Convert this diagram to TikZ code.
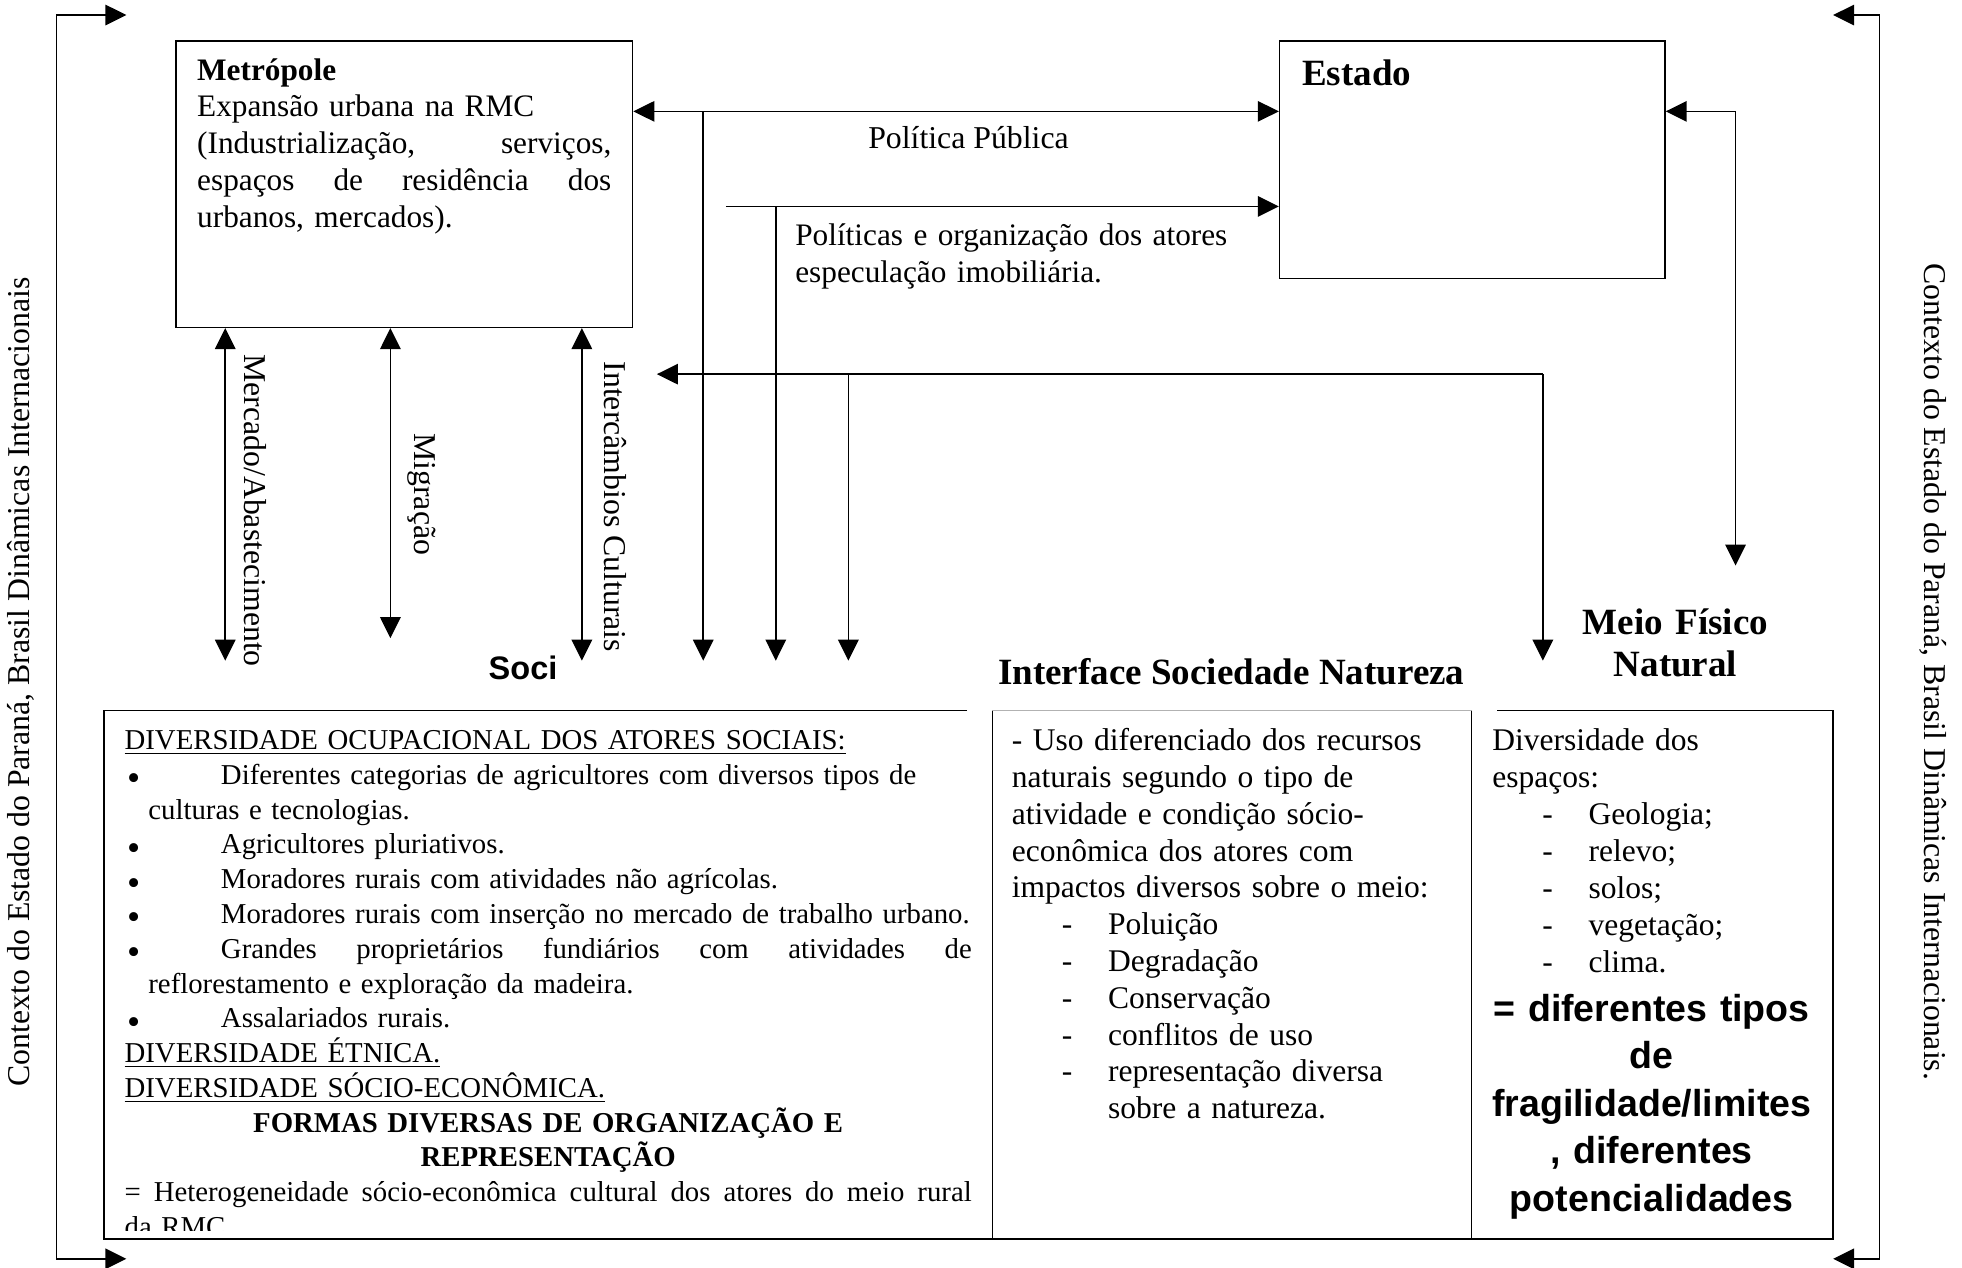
\documentclass[tikz,border=0pt]{standalone}
\usepackage{fontspec}
\setmainfont{Liberation Serif}
\setsansfont{Liberation Sans}
\usetikzlibrary{arrows.meta}

\newcommand{\linha}[1]{\leavevmode\hbox to\linewidth{#1}}
\newcommand{\marca}{\makebox[38.5pt][l]{\hspace{1pt}\smash{\raisebox{-2.6pt}{\fontsize{15}{15}\selectfont\textbullet}}}}
\newcommand{\traco}{\hspace*{20pt}\makebox[18.5pt][l]{-}}

\begin{document}
\begin{tikzpicture}[x=0.5pt,y=-0.5pt,line width=0.6pt,
		seta/.style={-{Triangle[length=8.4pt,width=8.2pt]}},
		dupla/.style={{Triangle[length=8.4pt,width=8.2pt]}-{Triangle[length=8.4pt,width=8.2pt]}},
		caixa/.style={draw,rectangle,inner sep=0pt,anchor=north west},
		texto/.style={inner sep=0pt,anchor=base west,font=\fontsize{12.5}{14.7}\selectfont},
		titulo/.style={inner sep=0pt,anchor=base,font=\fontsize{14.8}{17}\selectfont\bfseries},
		rotulo/.style={inner sep=0pt,font=\fontsize{12.7}{14.7}\selectfont}]
	\useasboundingbox (0,0) rectangle (1568,1013);

	% caixas de cima
	\node[caixa,minimum width=182.5pt,minimum height=114.5pt] (metro) at (140,32) {};
	\node[caixa,minimum width=154pt,minimum height=95pt] (estado) at (1022,32) {};
	\node[texto,text width=165.5pt] (metrotxt) at (157,64) {\textbf{Metrópole}\\
		Expansão urbana na RMC\\
		\linha{(Industrialização,\hfill serviços,}\\
		\linha{espaços\hfill de\hfill residência\hfill dos}\\
		urbanos, mercados).};
	\node[titulo,anchor=base west] (estadotxt) at (1040,68) {Estado};

	% pontos das setas
	\coordinate (ma) at (180,528);
	\coordinate (mg) at (312,510);
	\coordinate (ic) at (465,528);
	\coordinate (pp1) at (562,89);
	\coordinate (s1) at (562,528);
	\coordinate (po0) at (580,165);
	\coordinate (po1) at (620,165);
	\coordinate (s2) at (620,528);
	\coordinate (ic0) at (525,299);
	\coordinate (ic1) at (678,299);
	\coordinate (s3) at (678,528);
	\coordinate (ic2) at (1233,299);
	\coordinate (s4) at (1233,528);
	\coordinate (es0) at (1387,89);
	\coordinate (es1) at (1387,452);
	\coordinate (ce1) at (101,12);
	\coordinate (ce2) at (45,12);
	\coordinate (ce3) at (45,1006);
	\coordinate (ce4) at (101,1006);
	\coordinate (cd1) at (1465,12);
	\coordinate (cd2) at (1502,12);
	\coordinate (cd3) at (1502,1006);
	\coordinate (cd4) at (1465,1006);

	% setas
	\draw[dupla] (metro.east |- pp1) -- (estado.west |- pp1);
	\draw[seta] (pp1) -- (s1);
	\draw[seta] (po0) -- (estado.west |- po0);
	\draw[seta] (po1) -- (s2);
	\draw[seta] (ic2) -- (ic0);
	\draw[seta] (ic2) -- (s4);
	\draw[seta] (ic1) -- (s3);
	\draw[dupla] (estado.east |- es0) -- (es0) -- (es1);
	\draw[dupla] (metro.south -| ma) -- (ma);
	\draw[dupla] (metro.south -| mg) -- (mg);
	\draw[dupla] (metro.south -| ic) -- (ic);
	\draw[dupla] (ce1) -- (ce2) -- (ce3) -- (ce4);
	\draw[dupla] (cd1) -- (cd2) -- (cd3) -- (cd4);

	% rotulos
	\node[rotulo,anchor=base] (pp) at (774,119) {Política Pública};
	\node[texto,text width=200pt] (potxt) at (635,196) {Políticas e organização dos atores\\
		especulação imobiliária.};
	\node[rotulo,rotate=-90] (matxt) at (204,408) {Mercado/Abastecimento};
	\node[rotulo,rotate=-90] (mgtxt) at (337,395) {Migração};
	\node[rotulo,rotate=-90] (ictxt) at (492,405) {Intercâmbios Culturais};
	\node[rotulo,rotate=90] (ctxesq) at (17,545) {Contexto do Estado do Paraná, Brasil Dinâmicas Internacionais};
	\node[rotulo,rotate=-90] (ctxdir) at (1545,537) {Contexto do Estado do Paraná, Brasil Dinâmicas Internacionais.};
	\node[inner sep=0pt,font=\fontsize{13}{15}\selectfont\sffamily\bfseries] (soci) at (418,534) {Soci};
	\node[titulo] (interface) at (984,547) {Interface Sociedade Natureza};
	\node[titulo,text width=100pt,align=center] (meio) at (1339,507) {Meio Físico\\Natural};

	% tabela
	\draw (773,568) -- (83,568) -- (83,990) -- (1465,990) -- (1465,568) -- (1196,568);
	\draw[gray!60,line width=0.4pt] (793,568) -- (1176,568);
	\draw (793,568) -- (793,990);
	\draw (1176,568) -- (1176,990);

	\begin{scope}
		\clip (83,568) rectangle (793,983);
		\node[texto,text width=338.5pt,font=\fontsize{11.5}{13.9}\selectfont] (social) at (99,599) {\underline{DIVERSIDADE OCUPACIONAL DOS ATORES SOCIAIS:}\\
			\marca Diferentes categorias de agricultores com diversos tipos de\\
			\hspace*{9.5pt}culturas e tecnologias.\\
			\marca Agricultores pluriativos.\\
			\marca Moradores rurais com atividades não agrícolas.\\
			\mbox{\marca Moradores rurais com inserção no mercado de trabalho urbano.}\\
			\linha{\marca Grandes\hfill proprietários\hfill fundiários\hfill com\hfill atividades\hfill de}\\
			\hspace*{9.5pt}reflorestamento e exploração da madeira.\\
			\marca Assalariados rurais.\\
			\underline{DIVERSIDADE ÉTNICA.}\\
			\underline{DIVERSIDADE SÓCIO-ECONÔMICA.}\\
			\linha{\hfil\textbf{FORMAS DIVERSAS DE ORGANIZAÇÃO E}\hfil}\\
			\linha{\hfil\textbf{REPRESENTAÇÃO}\hfil}\\
			\linha{=\hfill Heterogeneidade\hfill sócio-econômica\hfill cultural\hfill dos\hfill atores\hfill do\hfill meio\hfill rural}\\
			da RMC};
	\end{scope}

	\node[texto,text width=180pt,font=\fontsize{12.6}{14.7}\selectfont] (interfacetxt) at (808,600) {- Uso diferenciado dos recursos\\
		naturais segundo o tipo de\\
		atividade e condição sócio-\\
		econômica dos atores com\\
		impactos diversos sobre o meio:\\
		\traco Poluição\\
		\traco Degradação\\
		\traco Conservação\\
		\traco conflitos de uso\\
		\traco representação diversa\\
		\hspace*{38.5pt}sobre a natureza.};

	\node[texto,text width=130pt,font=\fontsize{12.6}{14.75}\selectfont] (meiotxt) at (1192,600) {Diversidade dos\\
		espaços:\\
		\traco Geologia;\\
		\traco relevo;\\
		\traco solos;\\
		\traco vegetação;\\
		\traco clima.};
	\node[inner sep=0pt,anchor=base,text width=145pt,align=center,font=\fontsize{15}{19}\selectfont\sffamily\bfseries] (fragil) at (1320,816) {= diferentes tipos\\
		de\\
		fragilidade/limites\\
		, diferentes\\
		potencialidades};
\end{tikzpicture}
\end{document}
